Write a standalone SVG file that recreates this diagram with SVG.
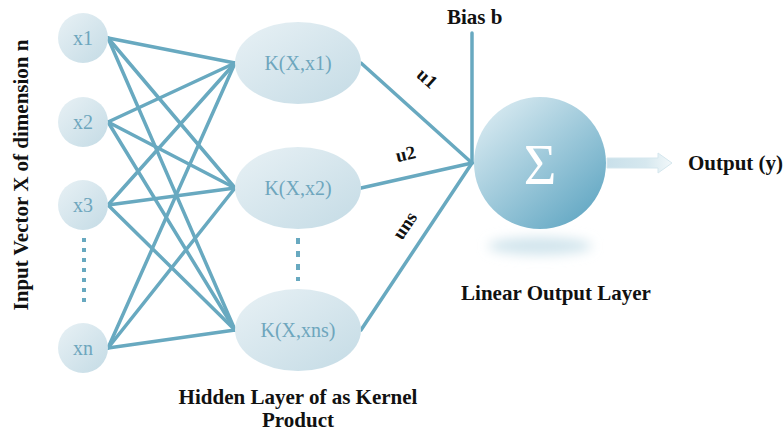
<svg xmlns="http://www.w3.org/2000/svg" width="784" height="432" viewBox="0 0 784 432">
<defs>
<linearGradient id="nodeGrad" x1="0" y1="0" x2="1" y2="1">
<stop offset="0" stop-color="#e8f1f5"/>
<stop offset="1" stop-color="#c4dbe5"/>
</linearGradient>
<linearGradient id="sumGrad" x1="0.15" y1="0.1" x2="0.85" y2="0.9">
<stop offset="0" stop-color="#d3e7ef"/>
<stop offset="1" stop-color="#67aac5"/>
</linearGradient>
<linearGradient id="arrowGrad" x1="0" y1="0" x2="1" y2="0">
<stop offset="0" stop-color="#c9e0ea"/>
<stop offset="0.6" stop-color="#d6e8ef"/>
<stop offset="1" stop-color="#f2f8fa"/>
</linearGradient>
<filter id="blur" x="-50%" y="-100%" width="200%" height="300%">
<feGaussianBlur stdDeviation="6"/>
</filter>
</defs>
<style>
.edge{stroke:#68a9c0;stroke-width:3.5;fill:none;stroke-linecap:round}
.dots{stroke:#68a9c0;stroke-width:4;fill:none;stroke-linecap:butt}
.node{fill:url(#nodeGrad)}
.nlabel{font-family:"Liberation Serif","Times New Roman",serif;font-size:20px;fill:#6ea6bd;text-anchor:middle}
.label{font-family:"Liberation Serif","Times New Roman",serif;font-size:21px;font-weight:bold;fill:#111}
.elabel{font-family:"Liberation Serif","Times New Roman",serif;font-size:19px;font-weight:bold;fill:#111;text-anchor:middle}
</style>

<g id="connectors">
<line class="edge" x1="108" y1="38" x2="235" y2="63"/>
<line class="edge" x1="108" y1="38" x2="235" y2="188"/>
<line class="edge" x1="108" y1="38" x2="235" y2="330"/>
<line class="edge" x1="108" y1="122" x2="235" y2="63"/>
<line class="edge" x1="108" y1="122" x2="235" y2="188"/>
<line class="edge" x1="108" y1="122" x2="235" y2="330"/>
<line class="edge" x1="108" y1="205" x2="235" y2="63"/>
<line class="edge" x1="108" y1="205" x2="235" y2="188"/>
<line class="edge" x1="108" y1="205" x2="235" y2="330"/>
<line class="edge" x1="108" y1="348" x2="235" y2="63"/>
<line class="edge" x1="108" y1="348" x2="235" y2="188"/>
<line class="edge" x1="108" y1="348" x2="235" y2="330"/>
<line class="edge" x1="361" y1="63" x2="472" y2="163"/>
<line class="edge" x1="361" y1="188" x2="472" y2="163"/>
<line class="edge" x1="361" y1="330" x2="472" y2="163"/>
<line class="edge" x1="472" y1="33" x2="472" y2="163"/>
<line class="dots" x1="84" y1="238" x2="84" y2="306" stroke-dasharray="4 6"/>
<line class="dots" x1="298" y1="238" x2="298" y2="281" stroke-dasharray="6 7"/>
<text class="elabel" transform="translate(423,83) rotate(42)">u1</text>
<text class="elabel" transform="translate(407,160) rotate(-12.6)">u2</text>
<text class="elabel" transform="translate(410,229) rotate(-56)">uns</text>
</g>

<g id="x1"><circle class="node" cx="83" cy="38" r="25"/><text class="nlabel" x="83" y="45">x1</text></g>
<g id="x2"><circle class="node" cx="83" cy="122" r="25"/><text class="nlabel" x="83" y="129">x2</text></g>
<g id="x3"><circle class="node" cx="83" cy="205" r="25"/><text class="nlabel" x="83" y="212">x3</text></g>
<g id="xn"><circle class="node" cx="83" cy="348" r="25"/><text class="nlabel" x="83" y="355">xn</text></g>

<g id="k1"><ellipse class="node" cx="298" cy="63" rx="63" ry="41"/><text class="nlabel" x="298" y="70">K(X,x1)</text></g>
<g id="k2"><ellipse class="node" cx="298" cy="188" rx="63" ry="41"/><text class="nlabel" x="298" y="195">K(X,x2)</text></g>
<g id="kns"><ellipse class="node" cx="298" cy="330" rx="63" ry="41"/><text class="nlabel" x="298" y="337">K(X,xns)</text></g>

<g id="sum">
<ellipse cx="540" cy="246" rx="52" ry="9" fill="#d2e5ed" filter="url(#blur)"/>
<circle cx="540" cy="163" r="66" fill="url(#sumGrad)"/>
<text x="540" y="184" font-family="Liberation Serif,'Times New Roman',serif" font-size="56" fill="#ffffff" text-anchor="middle">Σ</text>
</g>

<g id="output-arrow">
<polygon points="607,158 658,158 658,153 672,163 658,173 658,168 607,168" fill="url(#arrowGrad)" stroke="#d5e7ee" stroke-width="1"/>
</g>

<g id="labels">
<text class="label" x="447" y="24">Bias b</text>
<text class="label" x="688" y="170">Output (y)</text>
<text class="label" x="556" y="300" text-anchor="middle">Linear Output Layer</text>
<text class="label" x="298" y="404" text-anchor="middle">Hidden Layer of as Kernel</text>
<text class="label" x="298" y="427" text-anchor="middle">Product</text>
<text class="label" text-anchor="middle" transform="translate(28,175) rotate(-90)">Input Vector X of dimension n</text>
</g>
</svg>
